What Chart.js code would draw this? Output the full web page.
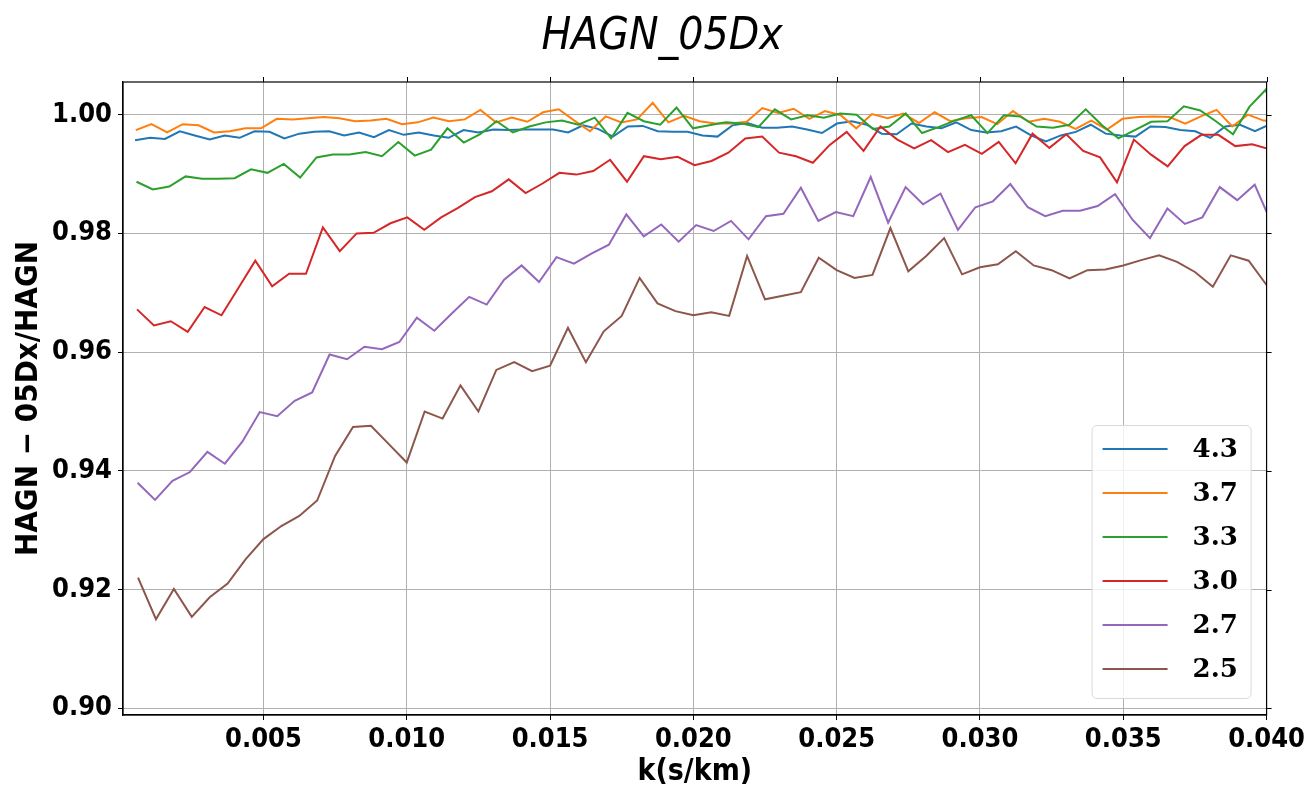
<!DOCTYPE html>
<html lang="en">
<head>
<meta charset="UTF-8">
<title>HAGN_05Dx</title>
<style>
  html, body { margin: 0; padding: 0; background: #fff; }
  #wrap { width: 1309px; height: 792px; position: relative; }
</style>
</head>
<body>
<div id="wrap"><canvas id="ratioChart"></canvas></div>

<script src="https://cdn.jsdelivr.net/npm/chart.js"></script>
<script>
// redshift labels, same order as the datasets below
const zLabels = ['4.3', '3.7', '3.3', '3.0', '2.7', '2.5'];
const lineColors = ['#1f77b4', '#ff7f0e', '#2ca02c', '#d62728', '#9467bd', '#8c564b'];

const xTicks = [0.005, 0.010, 0.015, 0.020, 0.025, 0.030, 0.035, 0.040];
const yTicks = [0.90, 0.92, 0.94, 0.96, 0.98, 1.00];

// z = 4.3
const kZ43 = [0.000521, 0.001042, 0.001563, 0.002084, 0.002605, 0.003126, 0.003647, 0.004168, 0.004689, 0.00521,
  0.005731, 0.006252, 0.006773, 0.007294, 0.007815, 0.008336, 0.008857, 0.009378, 0.009899, 0.01042,
  0.010941, 0.011462, 0.011983, 0.012504, 0.013025, 0.013546, 0.014067, 0.014588, 0.015109, 0.01563,
  0.016151, 0.016672, 0.017193, 0.017714, 0.018235, 0.018756, 0.019277, 0.019798, 0.020319, 0.02084,
  0.021361, 0.021882, 0.022403, 0.022924, 0.023445, 0.023966, 0.024487, 0.025008, 0.025529, 0.02605,
  0.026571, 0.027092, 0.027613, 0.028134, 0.028655, 0.029176, 0.029697, 0.030218, 0.030739, 0.03126,
  0.031781, 0.032302, 0.032823, 0.033344, 0.033865, 0.034386, 0.034907, 0.035428, 0.035949, 0.03647,
  0.036991, 0.037512, 0.038033, 0.038554, 0.039075, 0.039596, 0.040117];
const ratioZ43 = [0.9957, 0.9961, 0.9959, 0.9972, 0.9965, 0.9958, 0.9965, 0.9961, 0.9972, 0.9971,
  0.9960, 0.9968, 0.9971, 0.9972, 0.9965, 0.9970, 0.9962, 0.9974, 0.9966, 0.9970,
  0.9965, 0.9961, 0.9974, 0.9970, 0.9975, 0.9974, 0.9975, 0.9975, 0.9975, 0.9970,
  0.9982, 0.9976, 0.9963, 0.9980, 0.9981, 0.9972, 0.9971, 0.9971, 0.9965, 0.9963,
  0.9982, 0.9986, 0.9978, 0.9978, 0.9980, 0.9975, 0.9969, 0.9985, 0.9989, 0.9983,
  0.9968, 0.9967, 0.9985, 0.9980, 0.9977, 0.9987, 0.9974, 0.9970, 0.9972, 0.9980,
  0.9965, 0.9955, 0.9965, 0.9971, 0.9983, 0.9968, 0.9965, 0.9963, 0.9980, 0.9979,
  0.9974, 0.9972, 0.9961, 0.9980, 0.9983, 0.9972, 0.9984];

// z = 3.7
const kZ37 = [0.0005465, 0.001093, 0.0016395, 0.002186, 0.0027325, 0.003279, 0.0038255, 0.004372, 0.0049185, 0.005465,
  0.0060115, 0.006558, 0.0071045, 0.007651, 0.0081975, 0.008744, 0.0092905, 0.009837, 0.0103835, 0.01093,
  0.0114765, 0.012023, 0.0125695, 0.013116, 0.0136625, 0.014209, 0.0147555, 0.015302, 0.0158485, 0.016395,
  0.0169415, 0.017488, 0.0180345, 0.018581, 0.0191275, 0.019674, 0.0202205, 0.020767, 0.0213135, 0.02186,
  0.0224065, 0.022953, 0.0234995, 0.024046, 0.0245925, 0.025139, 0.0256855, 0.026232, 0.0267785, 0.027325,
  0.0278715, 0.028418, 0.0289645, 0.029511, 0.0300575, 0.030604, 0.0311505, 0.031697, 0.0322435, 0.03279,
  0.0333365, 0.033883, 0.0344295, 0.034976, 0.0355225, 0.036069, 0.0366155, 0.037162, 0.0377085, 0.038255,
  0.0388015, 0.039348, 0.0398945, 0.040441];
const ratioZ37 = [0.9974, 0.9984, 0.9970, 0.9984, 0.9982, 0.9970, 0.9972, 0.9977, 0.9977, 0.9993,
  0.9992, 0.9994, 0.9996, 0.9994, 0.9989, 0.9990, 0.9993, 0.9984, 0.9987, 0.9995,
  0.9989, 0.9992, 1.0008, 0.9987, 0.9995, 0.9988, 1.0004, 1.0009, 0.9990, 0.9972,
  0.9997, 0.9987, 0.9992, 1.0020, 0.9987, 0.9998, 0.9989, 0.9985, 0.9985, 0.9988,
  1.0011, 1.0003, 1.0010, 0.9993, 1.0006, 0.9999, 0.9977, 1.0001, 0.9994, 1.0002,
  0.9986, 1.0004, 0.9989, 0.9994, 0.9996, 0.9984, 1.0006, 0.9988, 0.9993, 0.9988,
  0.9976, 0.9990, 0.9975, 0.9993, 0.9996, 0.9997, 0.9996, 0.9985, 0.9997, 1.0008,
  0.9980, 1.0000, 0.9990, 0.9988];

// z = 3.3
const kZ33 = [0.000571, 0.001142, 0.001713, 0.002284, 0.002855, 0.003426, 0.003997, 0.004568, 0.005139, 0.00571,
  0.006281, 0.006852, 0.007423, 0.007994, 0.008565, 0.009136, 0.009707, 0.010278, 0.010849, 0.01142,
  0.011991, 0.012562, 0.013133, 0.013704, 0.014275, 0.014846, 0.015417, 0.015988, 0.016559, 0.01713,
  0.017701, 0.018272, 0.018843, 0.019414, 0.019985, 0.020556, 0.021127, 0.021698, 0.022269, 0.02284,
  0.023411, 0.023982, 0.024553, 0.025124, 0.025695, 0.026266, 0.026837, 0.027408, 0.027979, 0.02855,
  0.029121, 0.029692, 0.030263, 0.030834, 0.031405, 0.031976, 0.032547, 0.033118, 0.033689, 0.03426,
  0.034831, 0.035402, 0.035973, 0.036544, 0.037115, 0.037686, 0.038257, 0.038828, 0.039399, 0.03997,
  0.040541];
const ratioZ33 = [0.9887, 0.9874, 0.9879, 0.9896, 0.9892, 0.9892, 0.9893, 0.9908, 0.9902, 0.9917,
  0.9894, 0.9928, 0.9933, 0.9933, 0.9937, 0.9930, 0.9954, 0.9931, 0.9941, 0.9977,
  0.9953, 0.9967, 0.9989, 0.9970, 0.9980, 0.9987, 0.9990, 0.9983, 0.9995, 0.9960,
  1.0003, 0.9989, 0.9983, 1.0012, 0.9977, 0.9982, 0.9987, 0.9985, 0.9979, 1.0009,
  0.9992, 0.9999, 0.9995, 1.0002, 1.0000, 0.9976, 0.9980, 1.0002, 0.9969, 0.9979,
  0.9990, 0.9999, 0.9969, 0.9999, 0.9997, 0.9980, 0.9978, 0.9983, 1.0009, 0.9982,
  0.9960, 0.9974, 0.9988, 0.9989, 1.0014, 1.0007, 0.9988, 0.9967, 1.0013, 1.0042,
  0.9962];

// z = 3.0
const kZ30 = [0.0005895, 0.001179, 0.0017685, 0.002358, 0.0029475, 0.003537, 0.0041265, 0.004716, 0.0053055, 0.005895,
  0.0064845, 0.007074, 0.0076635, 0.008253, 0.0088425, 0.009432, 0.0100215, 0.010611, 0.0112005, 0.01179,
  0.0123795, 0.012969, 0.0135585, 0.014148, 0.0147375, 0.015327, 0.0159165, 0.016506, 0.0170955, 0.017685,
  0.0182745, 0.018864, 0.0194535, 0.020043, 0.0206325, 0.021222, 0.0218115, 0.022401, 0.0229905, 0.02358,
  0.0241695, 0.024759, 0.0253485, 0.025938, 0.0265275, 0.027117, 0.0277065, 0.028296, 0.0288855, 0.029475,
  0.0300645, 0.030654, 0.0312435, 0.031833, 0.0324225, 0.033012, 0.0336015, 0.034191, 0.0347805, 0.03537,
  0.0359595, 0.036549, 0.0371385, 0.037728, 0.0383175, 0.038907, 0.0394965, 0.040086];
const ratioZ30 = [0.9672, 0.9645, 0.9652, 0.9634, 0.9676, 0.9662, 0.9708, 0.9754, 0.9711, 0.9732,
  0.9732, 0.9810, 0.9770, 0.9800, 0.9801, 0.9817, 0.9827, 0.9806, 0.9827, 0.9843,
  0.9861, 0.9871, 0.9891, 0.9868, 0.9884, 0.9902, 0.9899, 0.9905, 0.9924, 0.9887,
  0.9930, 0.9925, 0.9929, 0.9915, 0.9922, 0.9936, 0.9960, 0.9963, 0.9936, 0.9930,
  0.9919, 0.9949, 0.9971, 0.9939, 0.9980, 0.9958, 0.9943, 0.9957, 0.9937, 0.9949,
  0.9934, 0.9954, 0.9918, 0.9968, 0.9944, 0.9967, 0.9939, 0.9928, 0.9886, 0.9958,
  0.9933, 0.9913, 0.9947, 0.9966, 0.9966, 0.9947, 0.9950, 0.9942];

// z = 2.7
const kZ27 = [0.000609, 0.001218, 0.001827, 0.002436, 0.003045, 0.003654, 0.004263, 0.004872, 0.005481, 0.00609,
  0.006699, 0.007308, 0.007917, 0.008526, 0.009135, 0.009744, 0.010353, 0.010962, 0.011571, 0.01218,
  0.012789, 0.013398, 0.014007, 0.014616, 0.015225, 0.015834, 0.016443, 0.017052, 0.017661, 0.01827,
  0.018879, 0.019488, 0.020097, 0.020706, 0.021315, 0.021924, 0.022533, 0.023142, 0.023751, 0.02436,
  0.024969, 0.025578, 0.026187, 0.026796, 0.027405, 0.028014, 0.028623, 0.029232, 0.029841, 0.03045,
  0.031059, 0.031668, 0.032277, 0.032886, 0.033495, 0.034104, 0.034713, 0.035322, 0.035931, 0.03654,
  0.037149, 0.037758, 0.038367, 0.038976, 0.039585, 0.040194];
const ratioZ27 = [0.9380, 0.9351, 0.9383, 0.9398, 0.9432, 0.9412, 0.9449, 0.9499, 0.9492, 0.9518,
  0.9532, 0.9596, 0.9588, 0.9609, 0.9605, 0.9617, 0.9658, 0.9636, 0.9665, 0.9693,
  0.9680, 0.9722, 0.9746, 0.9718, 0.9760, 0.9749, 0.9766, 0.9781, 0.9832, 0.9795,
  0.9815, 0.9786, 0.9814, 0.9804, 0.9821, 0.9790, 0.9829, 0.9833, 0.9877, 0.9821,
  0.9836, 0.9829, 0.9895, 0.9818, 0.9878, 0.9849, 0.9867, 0.9806, 0.9844, 0.9854,
  0.9883, 0.9844, 0.9829, 0.9838, 0.9838, 0.9846, 0.9866, 0.9823, 0.9792, 0.9842,
  0.9816, 0.9827, 0.9878, 0.9856, 0.9882, 0.9815];

// z = 2.5
const kZ25 = [0.000625, 0.00125, 0.001875, 0.0025, 0.003125, 0.00375, 0.004375, 0.005, 0.005625, 0.00625,
  0.006875, 0.0075, 0.008125, 0.00875, 0.009375, 0.01, 0.010625, 0.01125, 0.011875, 0.0125,
  0.013125, 0.01375, 0.014375, 0.015, 0.015625, 0.01625, 0.016875, 0.0175, 0.018125, 0.01875,
  0.019375, 0.02, 0.020625, 0.02125, 0.021875, 0.0225, 0.023125, 0.02375, 0.024375, 0.025,
  0.025625, 0.02625, 0.026875, 0.0275, 0.028125, 0.02875, 0.029375, 0.03, 0.030625, 0.03125,
  0.031875, 0.0325, 0.033125, 0.03375, 0.034375, 0.035, 0.035625, 0.03625, 0.036875, 0.0375,
  0.038125, 0.03875, 0.039375, 0.04, 0.040625];
const ratioZ25 = [0.9220, 0.9150, 0.9201, 0.9154, 0.9187, 0.9210, 0.9251, 0.9285, 0.9307, 0.9324,
  0.9350, 0.9425, 0.9474, 0.9476, 0.9445, 0.9414, 0.9500, 0.9488, 0.9544, 0.9500,
  0.9570, 0.9583, 0.9568, 0.9577, 0.9641, 0.9583, 0.9635, 0.9661, 0.9725, 0.9682,
  0.9669, 0.9662, 0.9667, 0.9661, 0.9762, 0.9689, 0.9695, 0.9701, 0.9759, 0.9738,
  0.9725, 0.9730, 0.9809, 0.9736, 0.9762, 0.9792, 0.9731, 0.9743, 0.9748, 0.9770,
  0.9746, 0.9738, 0.9724, 0.9738, 0.9739, 0.9746, 0.9755, 0.9763, 0.9752, 0.9735,
  0.9710, 0.9763, 0.9754, 0.9713, 0.9700];

const kGrids = [kZ43, kZ37, kZ33, kZ30, kZ27, kZ25];
const ratios = [ratioZ43, ratioZ37, ratioZ33, ratioZ30, ratioZ27, ratioZ25];

const SANS = "'DejaVu Sans Condensed', 'DejaVu Sans', sans-serif";

function toPoints(ks, vals) {
    return ks.map((k, i) => ({ x: k, y: vals[i] }));
}

// figure title, centred on the figure rather than the plot box
const figTitle = {
    id: 'figTitle',
    afterDraw(chart) {
        const ctx = chart.ctx;
        ctx.save();
        ctx.font = "italic 44px " + SANS;
        ctx.fillStyle = '#000';
        ctx.textAlign = 'center';
        ctx.textBaseline = 'alphabetic';
        ctx.fillText('HAGN_05Dx', 662, 49);
        ctx.restore();
    }
};

// matplotlib style frame: box on all four sides, ticks on top and right too
const frameBox = {
    id: 'frameBox',
    afterDatasetsDraw(chart) {
        const { ctx, chartArea: a, scales } = chart;
        ctx.save();
        ctx.strokeStyle = '#000';
        ctx.lineWidth = 1.2;
        ctx.strokeRect(a.left, a.top, a.right - a.left, a.bottom - a.top);
        ctx.lineWidth = 1;
        ctx.beginPath();
        xTicks.forEach(v => {
            const px = Math.round(scales.x.getPixelForValue(v)) + 0.5;
            ctx.moveTo(px, a.top);
            ctx.lineTo(px, a.top - 5);
        });
        yTicks.forEach(v => {
            const py = Math.round(scales.y.getPixelForValue(v)) + 0.5;
            ctx.moveTo(a.right, py);
            ctx.lineTo(a.right + 5, py);
        });
        ctx.stroke();
        ctx.restore();
    }
};

// legend box in the lower right corner of the axes
const cornerLegend = {
    id: 'cornerLegend',
    afterDraw(chart) {
        const { ctx, chartArea: a } = chart;
        const w = 159, h = 273;
        const x0 = a.right - 16 - w, y0 = a.bottom - 17 - h;
        ctx.save();
        ctx.beginPath();
        ctx.roundRect(x0 + 0.5, y0 + 0.5, w, h, 5);
        ctx.fillStyle = 'rgba(255,255,255,0.8)';
        ctx.fill();
        ctx.strokeStyle = '#d9d9d9';
        ctx.lineWidth = 1;
        ctx.stroke();
        ctx.font = "bold 26px 'DejaVu Serif', serif";
        ctx.textAlign = 'left';
        ctx.textBaseline = 'middle';
        zLabels.forEach((lab, i) => {
            const cy = y0 + 24 + i * 44;
            ctx.strokeStyle = lineColors[i];
            ctx.lineWidth = 2;
            ctx.beginPath();
            ctx.moveTo(x0 + 11, cy);
            ctx.lineTo(x0 + 76, cy);
            ctx.stroke();
            ctx.fillStyle = '#000';
            ctx.fillText(lab, x0 + 101, cy + 1);
        });
        ctx.restore();
    }
};

const datasets = zLabels.map((lab, i) => ({
    label: lab,
    data: toPoints(kGrids[i], ratios[i]),
    borderColor: lineColors[i],
    borderWidth: 2,
    pointRadius: 0,
    tension: 0,
    fill: false,
    order: zLabels.length - i
}));

new Chart(document.getElementById('ratioChart'), {
    type: 'line',
    data: { datasets: datasets },
    options: {
        responsive: true,
        maintainAspectRatio: false,
        animation: false,
        events: [],
        layout: { padding: { left: 0, top: 82, right: 42, bottom: 0 } },
        plugins: {
            legend: { display: false },
            tooltip: { enabled: false },
            title: { display: false }
        },
        scales: {
            x: {
                type: 'linear',
                min: 0.0001,
                max: 0.040,
                afterFit: s => { s.height = 77; },
                title: {
                    display: true,
                    text: 'k(s/km)',
                    color: '#000',
                    font: { family: SANS, size: 30, weight: 'bold', lineHeight: 1.2 },
                    padding: { top: 0, bottom: 2 }
                },
                ticks: {
                    stepSize: 0.005,
                    includeBounds: false,
                    autoSkip: false,
                    maxRotation: 0,
                    padding: 4,
                    color: '#000',
                    font: { family: SANS, size: 27, weight: 'bold' },
                    callback: v => v.toFixed(3)
                },
                grid: { color: '#b0b0b0', lineWidth: 1, tickLength: 5, tickColor: '#000', tickWidth: 1 },
                border: { display: true, color: '#000', width: 1.2 }
            },
            y: {
                min: 0.89887,
                max: 1.0055,
                afterFit: s => { s.width = 123; },
                title: {
                    display: true,
                    text: 'HAGN \u2212 05Dx/HAGN',
                    color: '#000',
                    font: { family: SANS, size: 31, weight: 'bold', lineHeight: 1.2 },
                    padding: { top: 10, bottom: 0 }
                },
                ticks: {
                    stepSize: 0.02,
                    includeBounds: false,
                    autoSkip: false,
                    padding: 6,
                    color: '#000',
                    font: { family: SANS, size: 27, weight: 'bold' },
                    callback: v => v.toFixed(2)
                },
                grid: { color: '#b0b0b0', lineWidth: 1, tickLength: 5, tickColor: '#000', tickWidth: 1 },
                border: { display: true, color: '#000', width: 1.2 }
            }
        }
    },
    plugins: [figTitle, frameBox, cornerLegend]
});
</script>
</body>
</html>
